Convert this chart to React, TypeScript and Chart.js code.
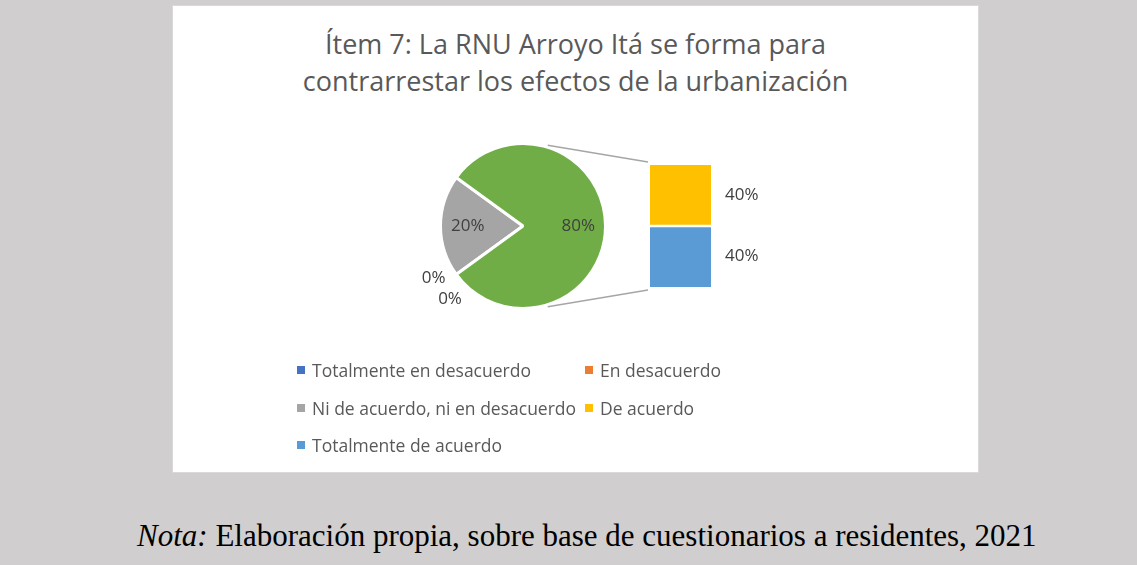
import React, { useEffect, useRef } from "react";
import { Chart, registerables } from "chart.js";
Chart.register(...registerables);

// ---------- data ----------
const TITLE_LINES = [
  "Ítem 7: La RNU Arroyo Itá se forma para",
  "contrarrestar los efectos de la urbanización",
];
const CATEGORIES = [
  "Totalmente en desacuerdo",
  "En desacuerdo",
  "Ni de acuerdo, ni en desacuerdo",
  "De acuerdo",
  "Totalmente de acuerdo",
];
const VALUES = [0, 0, 20, 40, 40];
const COLORS = ["#4472C4", "#ED7D31", "#A5A5A5", "#FFC000", "#5B9BD5"];
const OTHER_COLOR = "#70AD47";
const SPLIT_COUNT = 2; // last categories shown in the secondary bar
const CAPTION_ITALIC = "Nota:";
const CAPTION_TEXT = " Elaboración propia, sobre base de cuestionarios a residentes, 2021";

// ---------- derived ----------
const TOTAL = VALUES.reduce((a, b) => a + b, 0);
const MAIN_COUNT = VALUES.length - SPLIT_COUNT;
const PIE_LABELS = [...CATEGORIES.slice(0, MAIN_COUNT), "Otro"];
const PIE_VALUES = [
  ...VALUES.slice(0, MAIN_COUNT),
  VALUES.slice(MAIN_COUNT).reduce((a, b) => a + b, 0),
];
const PIE_COLORS = [...COLORS.slice(0, MAIN_COUNT), OTHER_COLOR];
const pct = (v: number) => Math.round((v / TOTAL) * 100) + "%";

const FONT = "'Open Sans', 'Noto Sans', sans-serif";
const TEXT_COLOR = "#595959";
const LABEL_COLOR = "#404040";
const BOX_W = 805;
const BOX_H = 466;

export default function App() {
  const pieRef = useRef<HTMLCanvasElement | null>(null);
  const barRef = useRef<HTMLCanvasElement | null>(null);

  useEffect(() => {
    if (!pieRef.current || !barRef.current) return;

    const pieLabelPlugin = {
      id: "pieLabels",
      afterDatasetsDraw(chart: any) {
        const ctx = chart.ctx;
        const meta = chart.getDatasetMeta(0);
        ctx.save();
        ctx.font = `17px ${FONT}`;
        ctx.fillStyle = LABEL_COLOR;
        ctx.textAlign = "center";
        ctx.textBaseline = "middle";
        meta.data.forEach((arc: any, i: number) => {
          const p = arc.getProps(["x", "y", "startAngle", "endAngle", "outerRadius"], true);
          const v = PIE_VALUES[i];
          let ang = (p.startAngle + p.endAngle) / 2;
          let dist = p.outerRadius * 0.67;
          if (v === 0) {
            ang += i === 0 ? 0.1 : -0.16;
            dist = p.outerRadius + 21;
          }
          ctx.fillText(pct(v), p.x + Math.cos(ang) * dist, p.y + Math.sin(ang) * dist);
        });
        ctx.restore();
      },
    };

    const pie = new Chart(pieRef.current, {
      type: "pie",
      data: {
        labels: PIE_LABELS,
        datasets: [
          {
            data: PIE_VALUES,
            backgroundColor: PIE_COLORS,
            borderColor: "#ffffff",
            borderWidth: 3,
          },
        ],
      },
      options: {
        responsive: false,
        animation: false,
        rotation: 234,
        layout: { padding: { left: 266, right: BOX_W - 434, top: 136, bottom: BOX_H - 304 } },
        plugins: {
          legend: { display: false },
          tooltip: { enabled: false },
          title: { display: false },
        },
      },
      plugins: [pieLabelPlugin],
    } as any);

    const barExtrasPlugin = {
      id: "barExtras",
      afterDatasetsDraw(chart: any) {
        const ctx = chart.ctx;
        ctx.save();
        // connector lines from pie "other" slice to the bar
        const arc: any = pie.getDatasetMeta(0).data[MAIN_COUNT];
        const ap = arc.getProps(["x", "y", "outerRadius"], true);
        const rr = ap.outerRadius + 2;
        const a = (73 * Math.PI) / 180;
        const n = chart.data.datasets.length;
        const topEl: any = chart.getDatasetMeta(n - 1).data[0];
        const botEl: any = chart.getDatasetMeta(0).data[0];
        const tp = topEl.getProps(["x", "y", "width", "base"], true);
        const bp = botEl.getProps(["x", "y", "width", "base"], true);
        ctx.strokeStyle = "#A6A6A6";
        ctx.lineWidth = 1.5;
        ctx.beginPath();
        ctx.moveTo(ap.x + Math.cos(-a) * rr, ap.y + Math.sin(-a) * rr);
        ctx.lineTo(tp.x - tp.width / 2 - 2, tp.y - 3);
        ctx.moveTo(ap.x + Math.cos(a) * rr, ap.y + Math.sin(a) * rr);
        ctx.lineTo(bp.x - bp.width / 2 - 2, bp.base + 3);
        ctx.stroke();
        // value labels
        ctx.font = `17px ${FONT}`;
        ctx.fillStyle = LABEL_COLOR;
        ctx.textAlign = "left";
        ctx.textBaseline = "middle";
        chart.data.datasets.forEach((ds: any, di: number) => {
          const el: any = chart.getDatasetMeta(di).data[0];
          const p = el.getProps(["x", "y", "width", "base"], true);
          ctx.fillText(pct(ds.data[0]), p.x + p.width / 2 + 14, (p.y + p.base) / 2);
        });
        ctx.restore();
      },
    };

    const splitIdx = [VALUES.length - 1, VALUES.length - 2]; // bottom first
    const bar = new Chart(barRef.current, {
      type: "bar",
      data: {
        labels: [""],
        datasets: splitIdx.map((idx, k) => ({
          label: CATEGORIES[idx],
          data: [VALUES[idx]],
          backgroundColor: COLORS[idx],
          borderColor: "#ffffff",
          borderWidth: k === 0 ? { top: 1.5, bottom: 0, left: 0, right: 0 } : { top: 0, bottom: 1.5, left: 0, right: 0 },
          borderSkipped: false,
          barPercentage: 1,
          categoryPercentage: 1,
        })),
      },
      options: {
        responsive: false,
        animation: false,
        layout: { padding: { left: 477, right: BOX_W - 538, top: 159, bottom: BOX_H - 281 } },
        scales: {
          x: { display: false, stacked: true },
          y: { display: false, stacked: true, min: 0, max: PIE_VALUES[MAIN_COUNT] },
        },
        plugins: {
          legend: { display: false },
          tooltip: { enabled: false },
          title: { display: false },
        },
      },
      plugins: [barExtrasPlugin],
    } as any);

    return () => {
      bar.destroy();
      pie.destroy();
    };
  }, []);

  return (
    <div
      style={{
        position: "absolute",
        left: 0,
        top: 0,
        width: 1137,
        height: 565,
        background: "#D0CECE",
        overflow: "hidden",
      }}
    >
      <div
        style={{
          position: "absolute",
          left: 172,
          top: 5,
          width: BOX_W + 2,
          height: BOX_H + 2,
          boxSizing: "border-box",
          border: "1px solid #D9D9D9",
          background: "#ffffff",
        }}
      >
        <div
          style={{
            position: "absolute",
            left: 0,
            top: 19,
            width: BOX_W,
            textAlign: "center",
            fontFamily: FONT,
            fontSize: 27,
            lineHeight: "37px",
            color: TEXT_COLOR,
          }}
        >
          {TITLE_LINES.map((t, i) => (
            <div key={i}>{t}</div>
          ))}
        </div>
        <canvas
          ref={pieRef}
          width={BOX_W}
          height={BOX_H}
          style={{ position: "absolute", left: 0, top: 0, width: BOX_W, height: BOX_H }}
        />
        <canvas
          ref={barRef}
          width={BOX_W}
          height={BOX_H}
          style={{ position: "absolute", left: 0, top: 0, width: BOX_W, height: BOX_H }}
        />
        {CATEGORIES.map((c, i) => {
          const row = Math.floor(i / 2);
          const col = i % 2;
          return (
            <div
              key={c}
              style={{
                position: "absolute",
                left: 124 + col * 288,
                top: 364 + row * 37.5 - 12,
                height: 24,
                display: "flex",
                alignItems: "center",
                fontFamily: FONT,
                fontSize: 17.5,
                color: TEXT_COLOR,
                whiteSpace: "nowrap",
              }}
            >
              <span
                style={{
                  display: "inline-block",
                  width: 8,
                  height: 8,
                  background: COLORS[i],
                  marginRight: 7,
                }}
              />
              <span>{c}</span>
            </div>
          );
        })}
      </div>
      <div
        style={{
          position: "absolute",
          left: 137,
          top: 520,
          fontFamily: "'Liberation Serif', 'Times New Roman', serif",
          fontSize: 31,
          lineHeight: "31px",
          color: "#000000",
          whiteSpace: "nowrap",
        }}
      >
        <i>{CAPTION_ITALIC}</i>
        {CAPTION_TEXT}
      </div>
    </div>
  );
}
